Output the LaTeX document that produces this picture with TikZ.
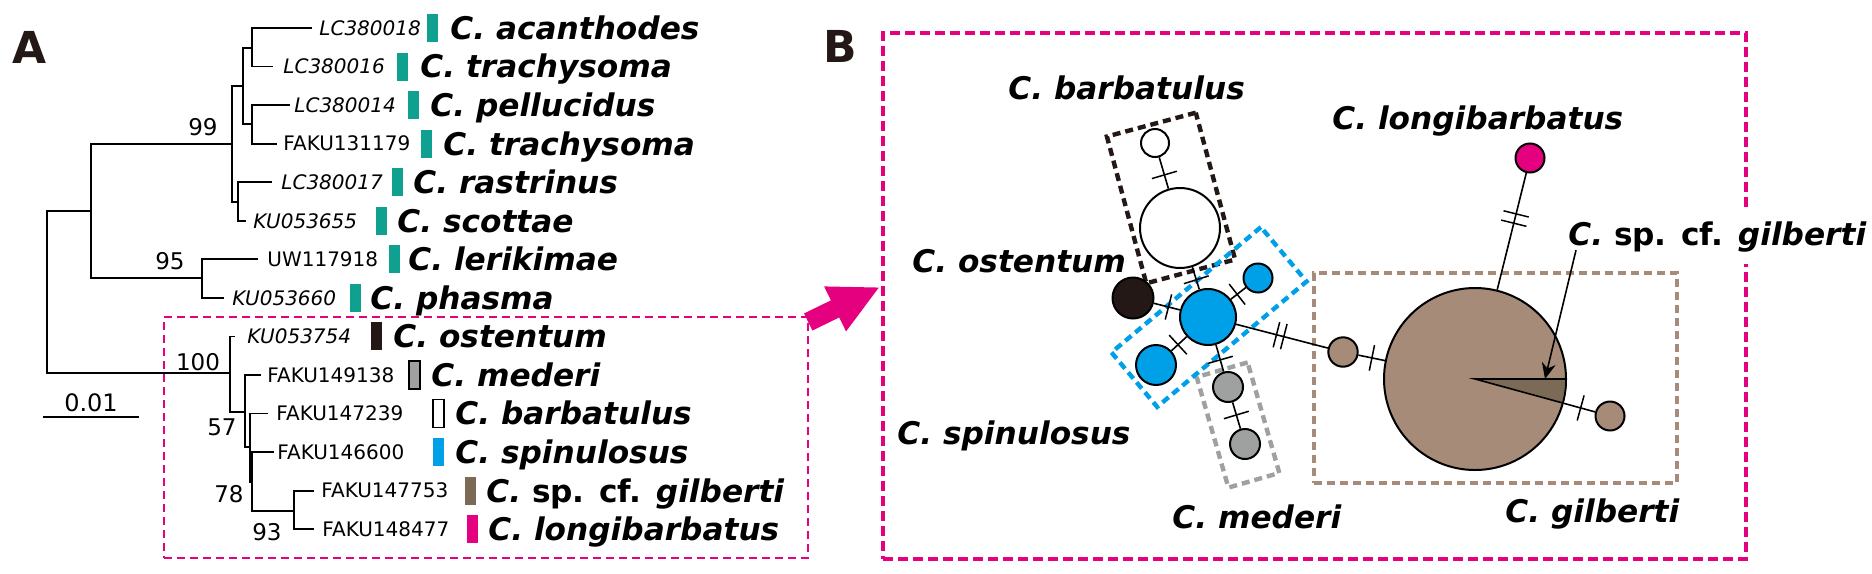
\documentclass[tikz,border=0pt]{standalone}
\usepackage{fontspec}
\setmainfont{DejaVu Sans}
\usetikzlibrary{arrows.meta,calc}
\definecolor{SnailTeal}{HTML}{10A090}
\definecolor{SnailPink}{HTML}{E4007F}
\definecolor{SnailBlue}{HTML}{00A0E9}
\definecolor{SnailDark}{HTML}{231815}
\definecolor{SnailGray}{HTML}{9FA0A0}
\definecolor{SnailBrown}{HTML}{A68B78}
\definecolor{SnailUmber}{HTML}{7A6A56}
\tikzset{
  acc/.style={anchor=base west,inner sep=0pt,font=\fontsize{10}{12}\selectfont},
  species/.style={anchor=base west,inner sep=0pt,font=\fontsize{15.6}{18}\selectfont\bfseries\itshape},
  boot/.style={anchor=base,inner sep=0pt,font=\fontsize{11.5}{13}\selectfont},
  panel/.style={anchor=base,inner sep=0pt,text=SnailDark,font=\fontsize{22}{24}\selectfont\bfseries},
  branch/.style={line width=.9pt},
  colbar/.style={rectangle,inner sep=0pt,minimum width=5.5pt,minimum height=14pt,line width=.7pt},
  pinkbox/.style={draw=SnailPink,rectangle,inner sep=0pt,anchor=north west},
  hap/.style={circle,draw=black,line width=1pt,inner sep=0pt},
  hapline/.style={line width=.8pt},
  mutbar/.style={draw,sloped,rectangle,inner sep=0pt,minimum width=0pt,minimum height=13pt,line width=.75pt},
  grp/.style={draw,rectangle,inner sep=0pt,line width=2.2pt,dash pattern=on 4pt off 2.5pt},
}
\begin{document}
\begin{tikzpicture}[x=0.5pt,y=-0.5pt]
\useasboundingbox (0,0) rectangle (1872,573);

% dashed frames and the pink arrow between them
\node[pinkbox,line width=1.1pt,dash pattern=on 4pt off 2.5pt,minimum width=322pt,minimum height=120.5pt] (boxA) at (163,316) {};
\node[pinkbox,line width=2.2pt,dash pattern=on 5pt off 2.5pt,minimum width=431.5pt,minimum height=263pt] (boxB) at (881,31) {};
\coordinate (arrtip) at (880,287);
\draw[SnailPink,line width=9.5pt,-{Triangle[length=25pt,width=23pt]}] ($(boxA.north east)+(-1,6)$) -- (arrtip);

\node[panel] (labA) at (30,63) {A};
\node[panel] (labB) at (840,62) {B};

% tips: accession, colour bar, species
\foreach \i/\tx/\acc/\ax/\bx/\bfil/\bdra/\sx/\spc in {
  1/312/{\itshape LC380018}/319/432/SnailTeal/none/450/{C. acanthodes},
  2/273/{\itshape LC380016}/283/402.5/SnailTeal/none/420/{C. trachysoma},
  3/290/{\itshape LC380014}/294/413/SnailTeal/none/430/{C. pellucidus},
  4/277/{FAKU131179}/283/426/SnailTeal/none/443/{C. trachysoma},
  5/272/{\itshape LC380017}/281/397.5/SnailTeal/none/413/{C. rastrinus},
  6/246/{\itshape KU053655}/253/381/SnailTeal/none/397/{C. scottae},
  7/258/{UW117918}/267/394/SnailTeal/none/408/{C. lerikimae},
  8/224/{\itshape KU053660}/232/355/SnailTeal/none/370/{C. phasma},
  9/235/{\itshape KU053754}/247/376.5/SnailDark/none/393/{C. ostentum},
  10/261/{FAKU149138}/267/414.5/SnailGray/black/431/{C. mederi},
  11/268/{FAKU147239}/276/438.5/white/black/455/{C. barbatulus},
  12/274/{FAKU146600}/277/438.5/SnailBlue/none/455/{C. spinulosus},
  13/314/{FAKU147753}/321/470/SnailUmber/none/486/{C. \textup{sp. cf.} gilberti},
  14/314/{FAKU148477}/322/472/SnailPink/none/488/{C. longibarbatus}}{
  \pgfmathsetmacro{\y}{28+38.55*(\i-1)}
  \coordinate (t\i) at (\tx,\y);
  \node[acc] (acc\i) at (\ax,\y+7.3) {\acc};
  \node[colbar,fill=\bfil,draw=\bdra] (bar\i) at (\bx,\y) {};
  \node[species] (sp\i) at (\sx,\y+11.4) {\spc};
}

% tree
\coordinate (root) at (47,292);
\coordinate (n1) at (91,211);
\coordinate (n99) at (232,144);
\coordinate (nA) at (243,86);
\coordinate (nA1) at (252,48);
\coordinate (nA2) at (252,124);
\coordinate (nB) at (238,202);
\coordinate (n95) at (202,278);
\coordinate (n100) at (230,373);
\coordinate (nC) at (245,412);
\coordinate (n57) at (250,447);
\coordinate (n78) at (252,482);
\coordinate (n93) at (294,511);
\draw[branch] (root) |- (n1) (root) |- (n100)
  (n1) |- (n99) (n1) |- (n95)
  (n99) |- (nA) (n99) |- (nB)
  (nA) |- (nA1) (nA) |- (nA2)
  (nA1) |- (t1) (nA1) |- (t2) (nA2) |- (t3) (nA2) |- (t4)
  (nB) |- (t5) (nB) |- (t6) (n95) |- (t7) (n95) |- (t8)
  (n100) |- (t9) (n100) |- (nC) (nC) |- (t10) (nC) |- (n57)
  (n57) |- (t11) (n57) |- (n78) (n78) |- (t12) (n78) |- (n93)
  (n93) |- (t13) (n93) |- (t14);
\node[boot] (bs99) at (203,135) {99};
\node[boot] (bs95) at (170,269) {95};
\node[boot] (bs100) at (198,370) {100};
\node[boot] (bs57) at (222,435) {57};
\node[boot] (bs78) at (229,502) {78};
\node[boot] (bs93) at (267,540) {93};
\coordinate (sbl) at (43,417);
\coordinate (sbr) at (139,417);
\draw[line width=1pt] (sbl) -- (sbr);
\node[boot,font=\fontsize{12}{14}\selectfont] (sblab) at (91,411) {0.01};

% haplotype network
\node[grp,draw=SnailDark,rotate=15,minimum width=46pt,minimum height=76pt] (grpbarb) at (1171,198) {};
\node[grp,draw=SnailGray,rotate=16,minimum width=26.5pt,minimum height=57.5pt] (grpmed) at (1238,425) {};
\node[grp,draw=SnailBlue,rotate=40,minimum width=97.5pt,minimum height=35.5pt] (grpspin) at (1209,317) {};
\node[grp,draw=SnailBrown,line width=1.9pt,anchor=north west,minimum width=181.5pt,minimum height=105pt] (grpgil) at (1312,271) {};

\node[hap,fill=white,minimum size=14pt] (hW1) at (1155,143) {};
\node[hap,fill=white,minimum size=40pt] (hW2) at (1180,228) {};
\node[hap,fill=SnailBlue,minimum size=28pt] (hB1) at (1208,317) {};
\node[hap,fill=SnailDark,minimum size=20.5pt] (hK) at (1133,298) {};
\node[hap,fill=SnailBlue,minimum size=14.5pt] (hB2) at (1258,278) {};
\node[hap,fill=SnailBlue,minimum size=20pt] (hB3) at (1156,365) {};
\node[hap,fill=SnailGray,minimum size=15pt] (hG1) at (1228,387) {};
\node[hap,fill=SnailGray,minimum size=15pt] (hG2) at (1245,444) {};
\node[hap,fill=SnailBrown,minimum size=14.7pt] (hR1) at (1343,352) {};
\node[hap,fill=SnailBrown,minimum size=91pt] (hR0) at (1475,379) {};
\node[hap,fill=SnailBrown,minimum size=14.5pt] (hR2) at (1610,416) {};
\node[hap,fill=SnailPink,minimum size=14.5pt] (hP) at (1530,158) {};
\draw[line width=.8pt,fill=SnailUmber] (hR0.center) -- ++(0:91) arc[start angle=0,end angle=15.3,radius=91] -- cycle;

\draw[hapline] (hW1) -- node[mutbar,pos=.56]{} (hW2);
\draw[hapline] (hW2) -- node[mutbar,pos=.57]{} (hB1);
\draw[hapline] (hK) -- node[mutbar,pos=.56]{} (hB1);
\draw[hapline] (hB1) -- node[mutbar,pos=.42]{} (hB2);
\draw[hapline] (hB1) -- node[mutbar,pos=.57]{} (hB3);
\draw[hapline] (hB1) -- node[mutbar,pos=.56]{} (hG1);
\draw[hapline] (hG1) -- node[mutbar,pos=.48]{} (hG2);
\draw[hapline] (hB1) -- node[mutbar,pos=.44]{} node[mutbar,pos=.52]{} (hR1);
\draw[hapline] (hR1) -- node[mutbar,pos=.51]{} (hR0);
\draw[hapline] (hR0) -- node[mutbar,pos=.54]{} (hR2);
\draw[hapline] (hR0) -- node[mutbar,pos=.57]{} node[mutbar,pos=.65]{} (hP);

\node[species] (lbBarb) at (1008,99) {C. barbatulus};
\node[species] (lbLong) at (1332,129) {C. longibarbatus};
\node[species] (lbOst) at (912,272) {C. ostentum};
\node[species] (lbSpin) at (897,444) {C. spinulosus};
\node[species] (lbMed) at (1172,528) {C. mederi};
\node[species] (lbGil) at (1505,522) {C. gilberti};
\node[species,fill=white,inner xsep=2pt,inner ysep=6pt] (lbCf) at (1564,245) {C. \textup{sp. cf.} gilberti};
\coordinate (cftip) at (1545,379);
\draw[line width=.8pt,-{Stealth[length=8pt,width=7pt]}] ($(lbCf.south west)+(12,-14)$) -- (cftip);
\end{tikzpicture}
\end{document}
